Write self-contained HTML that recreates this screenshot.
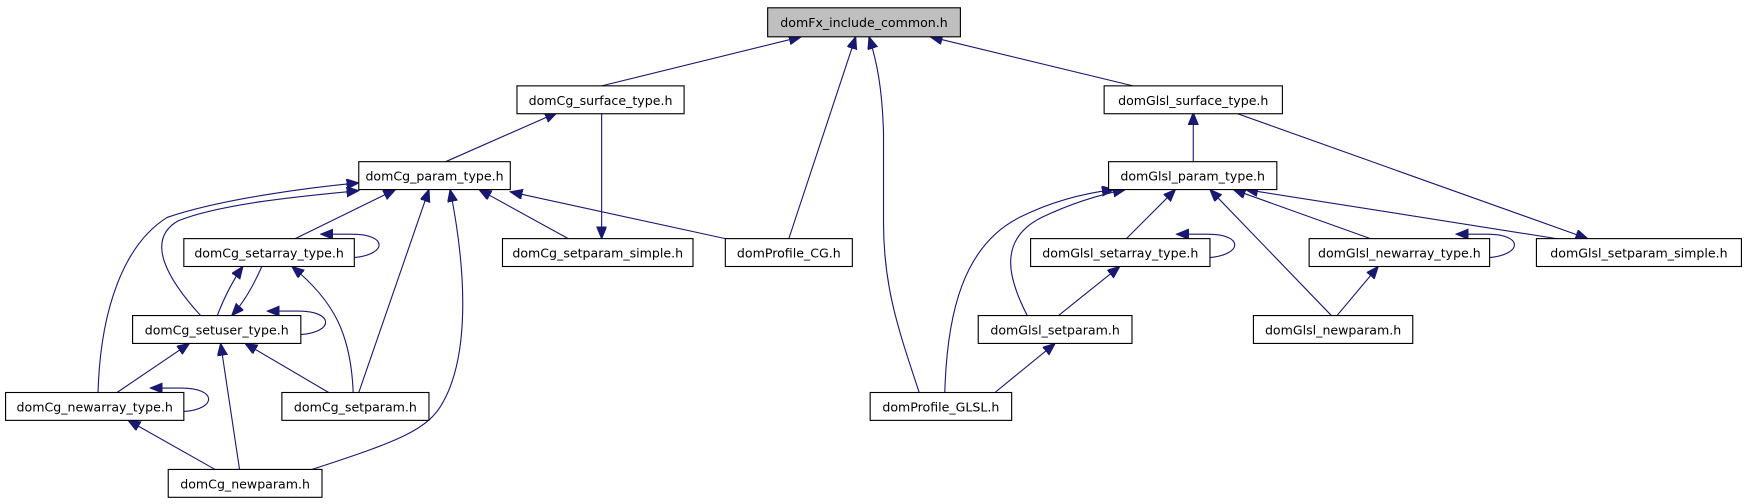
<!DOCTYPE html>
<html><head><meta charset="utf-8"><style>
html,body{margin:0;padding:0;background:#fff;}
svg{display:block;}
text{font-family:"DejaVu Sans","Liberation Sans",sans-serif;font-size:11.3px;fill:#000;}
.n{fill:#fff;stroke:#000;stroke-width:1;}
.e{fill:none;stroke:#191970;stroke-width:1;}
</style></head><body>
<svg width="1747" height="504" viewBox="0 0 1568 452" preserveAspectRatio="none" xmlns="http://www.w3.org/2000/svg">
<defs>
<marker id="a" markerUnits="userSpaceOnUse" markerWidth="12" markerHeight="10" refX="11" refY="4.5" orient="auto">
<path d="M0,0 L11,4.5 L0,9 Z" fill="#191970" stroke="#191970"/>
</marker>
</defs>
<g marker-end="url(#a)">
<path class="e" d="M540,77 L719,33"/>
<path class="e" d="M708,214 L768,33"/>
<path class="e" d="M825,352 C808,300 793,260 793,200 L793,120 C792,80 787,55 780,33"/>
<path class="e" d="M1017,77 L835,33"/>
<path class="e" d="M400,145 L500,101"/>
<path class="e" d="M540,101 L540,214"/>
<path class="e" d="M1071,145 L1071,101"/>
<path class="e" d="M1108,101 L1425,214"/>
<path class="e" d="M265,214 L355,170"/>
<path class="e" d="M318,231 C348,228 348,210 316,210 L288,210"/>
<path class="e" d="M180,283 C150,250 130,215 160,198 C200,182 280,175 322,171"/>
<path class="e" d="M88,352 C90,280 110,220 150,195 C200,178 280,168 322,164"/>
<path class="e" d="M195,283 C202,265 210,250 218,239"/>
<path class="e" d="M235,239 C228,255 220,270 208,283"/>
<path class="e" d="M270,300 C300,298 300,279 268,279 L240,279"/>
<path class="e" d="M322,352 L385,170"/>
<path class="e" d="M317,352 C315,300 300,270 262,239"/>
<path class="e" d="M280,421 C360,395 385,385 398,360 C420,320 420,250 404,170"/>
<path class="e" d="M510,214 L430,170"/>
<path class="e" d="M651,214 L458,172"/>
<path class="e" d="M295,352 L220,308"/>
<path class="e" d="M105,352 L170,308"/>
<path class="e" d="M215,421 L198,308"/>
<path class="e" d="M193,421 L115,377"/>
<path class="e" d="M165,369 C195,367 195,348 163,348 L135,348"/>
<path class="e" d="M848,352 C850,280 865,220 915,195 C945,180 975,173 1000,170"/>
<path class="e" d="M922,283 C905,250 895,215 935,195 C960,183 985,175 1010,170"/>
<path class="e" d="M1011,214 L1055,170"/>
<path class="e" d="M1195,283 L1086,170"/>
<path class="e" d="M1230,214 L1107,170"/>
<path class="e" d="M1397,214 L1118,170"/>
<path class="e" d="M950,283 L1005,239"/>
<path class="e" d="M893,352 L947,308"/>
<path class="e" d="M1200,283 L1237,239"/>
<path class="e" d="M1086,231 C1116,228 1116,210 1084,210 L1056,210"/>
<path class="e" d="M1337,231 C1367,228 1367,210 1335,210 L1307,210"/>
</g>
<g>
<rect x="689" y="7" width="173" height="26" fill="#bfbfbf" stroke="#000"/><text x="775.5" y="24" text-anchor="middle">domFx_include_common.h</text>
<rect class="n" x="464" y="77" width="150" height="25"/><text x="539" y="94" text-anchor="middle">domCg_surface_type.h</text>
<rect class="n" x="991" y="77" width="160" height="25"/><text x="1071" y="94" text-anchor="middle">domGlsl_surface_type.h</text>
<rect class="n" x="322" y="145" width="136" height="25"/><text x="390" y="162" text-anchor="middle">domCg_param_type.h</text>
<rect class="n" x="995" y="145" width="151" height="25"/><text x="1070.5" y="162" text-anchor="middle">domGlsl_param_type.h</text>
<rect class="n" x="165" y="214" width="153" height="25"/><text x="241.5" y="231" text-anchor="middle">domCg_setarray_type.h</text>
<rect class="n" x="451" y="214" width="171" height="25"/><text x="536.5" y="231" text-anchor="middle">domCg_setparam_simple.h</text>
<rect class="n" x="651" y="214" width="114" height="25"/><text x="708" y="231" text-anchor="middle">domProfile_CG.h</text>
<rect class="n" x="925" y="214" width="161" height="25"/><text x="1005.5" y="231" text-anchor="middle">domGlsl_setarray_type.h</text>
<rect class="n" x="1175" y="214" width="162" height="25"/><text x="1256" y="231" text-anchor="middle">domGlsl_newarray_type.h</text>
<rect class="n" x="1379" y="214" width="184" height="25"/><text x="1471" y="231" text-anchor="middle">domGlsl_setparam_simple.h</text>
<rect class="n" x="119" y="283" width="151" height="25"/><text x="194.5" y="300" text-anchor="middle">domCg_setuser_type.h</text>
<rect class="n" x="878" y="283" width="138" height="25"/><text x="947" y="300" text-anchor="middle">domGlsl_setparam.h</text>
<rect class="n" x="1125" y="283" width="143" height="25"/><text x="1196.5" y="300" text-anchor="middle">domGlsl_newparam.h</text>
<rect class="n" x="5" y="352" width="160" height="25"/><text x="85" y="369" text-anchor="middle">domCg_newarray_type.h</text>
<rect class="n" x="253" y="352" width="132" height="25"/><text x="319" y="369" text-anchor="middle">domCg_setparam.h</text>
<rect class="n" x="781" y="352" width="127" height="25"/><text x="844.5" y="369" text-anchor="middle">domProfile_GLSL.h</text>
<rect class="n" x="151" y="421" width="138" height="25"/><text x="220" y="438" text-anchor="middle">domCg_newparam.h</text>
</g>
</svg>
</body></html>
